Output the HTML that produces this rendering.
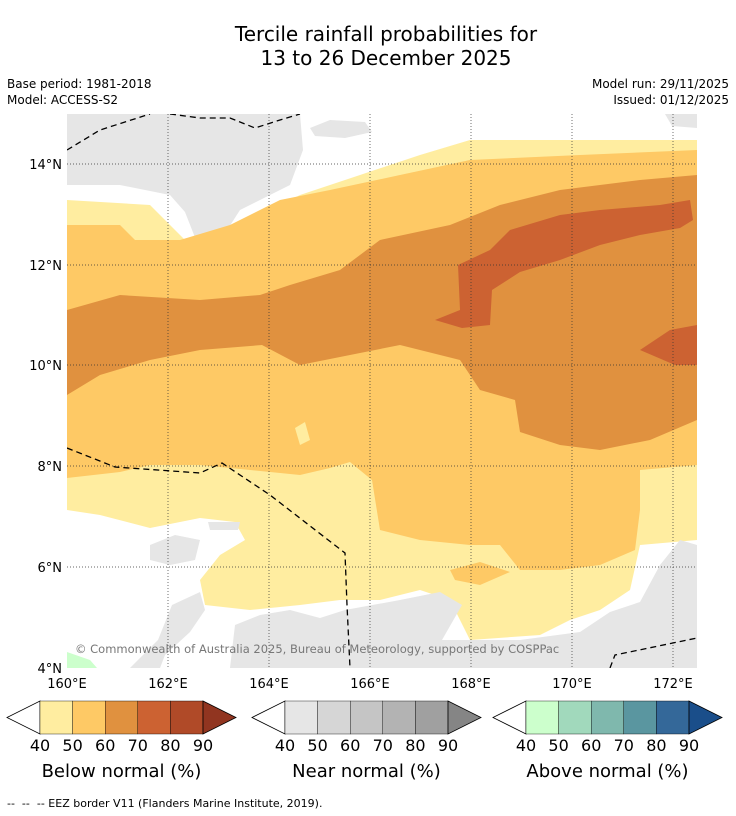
<!DOCTYPE html>
<html><head><meta charset="utf-8"><style>
body{margin:0;background:#fff;width:736px;height:816px;overflow:hidden;font-family:"DejaVu Sans","Liberation Sans",sans-serif}
.t{position:absolute;color:#000}
</style></head><body>
<div class="t" style="left:18px;width:736px;top:22px;text-align:center;font-size:20px;line-height:24px">Tercile rainfall probabilities for<br>13 to 26 December 2025</div>
<div class="t" style="left:7px;top:76px;font-size:12px;line-height:16px">Base period: 1981-2018<br>Model: ACCESS-S2</div>
<div class="t" style="right:7px;top:76px;font-size:12px;line-height:16px;text-align:right">Model run: 29/11/2025<br>Issued: 01/12/2025</div>
<svg width="736" height="816" style="position:absolute;left:0;top:0">
<defs><clipPath id="c"><rect x="67" y="114" width="630" height="554"/></clipPath></defs>
<g clip-path="url(#c)">
<rect x="67" y="114" width="630" height="554" fill="#fff"/>
<polygon fill="#e6e6e6" points="67,114 300,114 303,150 290,185 240,210 222,238 196,240 185,212 170,195 120,185 67,185"/>
<polygon fill="#e6e6e6" points="310,128 330,120 365,122 372,132 345,138 315,136"/>
<polygon fill="#e6e6e6" points="665,114 697,114 697,128 672,126"/>
<polygon fill="#ffeda0" points="67,200 150,205 190,245 225,245 260,215 300,195 360,175 420,155 470,140 697,140 697,540 640,545 630,590 600,610 570,620 540,635 470,640 450,600 420,590 380,600 340,600 300,605 250,610 205,605 200,580 220,555 245,540 235,522 200,518 150,528 100,515 67,510"/>
<polygon fill="#e6e6e6" points="230,668 235,625 260,615 290,610 320,618 345,610 400,600 440,592 462,605 442,640 520,640 580,632 610,612 640,602 660,565 680,540 697,545 697,668"/>
<polygon fill="#e6e6e6" points="130,668 158,640 172,605 200,592 205,610 190,632 165,655 160,668"/>
<polygon fill="#e6e6e6" points="150,545 175,535 200,540 195,560 170,565 150,560"/>
<polygon fill="#e6e6e6" points="208,522 240,522 238,530 210,530"/>
<polygon fill="#ccffcc" points="67,652 90,660 97,668 67,668"/>
<polygon fill="#fec965" points="67,225 120,225 135,240 180,240 230,225 280,200 330,190 400,175 470,160 580,155 697,150 697,465 640,470 640,510 635,550 600,565 560,570 520,570 500,545 470,545 420,540 380,530 372,480 350,462 330,468 300,475 250,470 200,465 150,465 120,472 67,478"/>
<polygon fill="#fec965" points="450,570 480,562 510,572 480,585 455,580"/>
<polygon fill="#ffeda0" points="295,428 305,422 310,440 300,445"/>
<polygon fill="#e0913f" points="67,310 120,295 200,300 260,295 290,285 340,270 380,240 450,225 500,205 560,190 640,180 697,175 697,420 650,440 600,450 560,445 520,432 515,400 480,390 460,360 400,345 350,355 300,365 262,345 200,350 150,360 100,375 67,395"/>
<polygon fill="#cc6232" points="435,320 460,310 458,265 490,250 510,230 560,215 600,210 660,205 690,200 693,220 680,228 640,235 600,245 560,260 520,272 492,290 490,325 462,328"/>
<polygon fill="#cc6232" points="640,350 670,330 697,325 697,365 675,365"/>
<g stroke="#333" stroke-width="0.7" stroke-dasharray="1,2">
<line x1="168" y1="114" x2="168" y2="668"/><line x1="269" y1="114" x2="269" y2="668"/><line x1="370" y1="114" x2="370" y2="668"/><line x1="471" y1="114" x2="471" y2="668"/><line x1="572" y1="114" x2="572" y2="668"/><line x1="673" y1="114" x2="673" y2="668"/>
<line x1="67" y1="164" x2="697" y2="164"/><line x1="67" y1="265" x2="697" y2="265"/><line x1="67" y1="365" x2="697" y2="365"/><line x1="67" y1="466" x2="697" y2="466"/><line x1="67" y1="567" x2="697" y2="567"/>
</g>
<g fill="none" stroke="#000" stroke-width="1.3" stroke-dasharray="6,4">
<polyline points="67,150 100,130 150,114"/><polyline points="170,114 200,118 230,118 255,128 280,120 300,114"/>
<polyline points="67,448 115,467 200,473 222,463 270,495 345,553 347,605 350,668"/>
<polyline points="610,668 615,655 697,638"/>
</g>
</g>
<text x="75" y="653" font-size="11.5" fill="#777" font-family="DejaVu Sans,Liberation Sans,sans-serif">© Commonwealth of Australia 2025, Bureau of Meteorology, supported by COSPPac</text>
<g font-size="13" font-family="DejaVu Sans,Liberation Sans,sans-serif">
<text x="62" y="169" text-anchor="end">14°N</text><text x="62" y="270" text-anchor="end">12°N</text><text x="62" y="370" text-anchor="end">10°N</text><text x="62" y="471" text-anchor="end">8°N</text><text x="62" y="572" text-anchor="end">6°N</text><text x="62" y="673" text-anchor="end">4°N</text>
<text x="67" y="688" text-anchor="middle">160°E</text><text x="168" y="688" text-anchor="middle">162°E</text><text x="269" y="688" text-anchor="middle">164°E</text><text x="370" y="688" text-anchor="middle">166°E</text><text x="471" y="688" text-anchor="middle">168°E</text><text x="572" y="688" text-anchor="middle">170°E</text><text x="673" y="688" text-anchor="middle">172°E</text>
</g>
<g id="bars"></g>
</svg>
<div class="t" style="left:7px;width:229px;top:761px;text-align:center;font-size:18px">Below normal (%)</div>
<div class="t" style="left:252px;width:229px;top:761px;text-align:center;font-size:18px">Near normal (%)</div>
<div class="t" style="left:493px;width:229px;top:761px;text-align:center;font-size:18px">Above normal (%)</div>
<div class="t" style="left:7px;top:797px;font-size:11px">-- &nbsp;-- &nbsp;-- EEZ border V11 (Flanders Marine Institute, 2019).</div>
<script>
const levels=[40,50,60,70,80,90];
const belowColors=["#ffeda0","#fec965","#e0913f","#cc6232","#b04a28","#913520"];
const nearColors=["#e6e6e6","#d6d6d6","#c5c5c5","#b3b3b3","#a0a0a0","#858585"];
const aboveColors=["#ccffcc","#a1d9bc","#7fb8ad","#5a96a0","#346899","#1a4e8a"];
const NS="http://www.w3.org/2000/svg";
const g=document.getElementById('bars');
function mk(t,a){const e=document.createElementNS(NS,t);for(const k in a)e.setAttribute(k,a[k]);g.appendChild(e);return e;}
function bar(x0,cols,name){
  const w=32.6,y=701,h=33,xs=x0+33;
  const l=mk('polygon',{points:`${x0},${y+h/2} ${xs},${y} ${xs},${y+h}`,fill:'#fff',stroke:'#000','stroke-width':0.8});
  
  
  for(let i=0;i<5;i++){
    const r=mk('rect',{x:xs+i*w,y:y,width:w,height:h,fill:cols[i],stroke:'#000','stroke-width':0.4});
    
    
  }
  const xe=xs+5*w;
  const tr=mk('polygon',{points:`${xe},${y} ${xe+33},${y+h/2} ${xe},${y+h}`,fill:cols[5],stroke:'#000','stroke-width':0.8});
  
  
  levels.forEach((v,i)=>{
    const t=mk('text',{x:xs+i*w,y:751,'text-anchor':'middle','font-size':16,'font-family':'DejaVu Sans,Liberation Sans,sans-serif'});
    t.textContent=v;
    
    
  });
}
bar(7,belowColors,'below');bar(252,nearColors,'near');bar(493,aboveColors,'above');
</script>
</body></html>
